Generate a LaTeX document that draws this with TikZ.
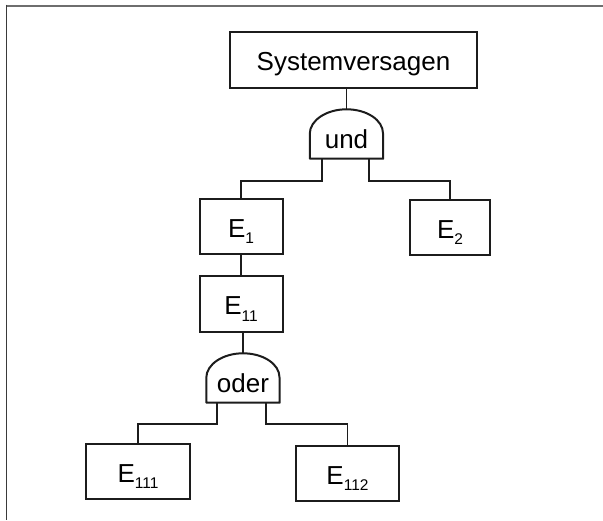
\documentclass[tikz,border=0pt]{standalone}
\usepackage{fontspec}
\setmainfont{Liberation Sans}
\usetikzlibrary{calc}

\definecolor{inkdark}{HTML}{1C1C1C}
\definecolor{framegray}{HTML}{6E6E6E}
\definecolor{frameleft}{HTML}{3A3A3A}

% lowered index digits after an event letter
\newcommand\idx[1]{\raisebox{-6.5pt}{\fontsize{15.5}{15.5}\selectfont #1}}

% outline of a logic gate: straight sides, domed top
\newcommand\gateshape[1]{%
  \draw[gateline] (#1.south west) -- ++(0,-25)
    .. controls +(0,-13.3) and +(-20.2,0) .. (#1.north)
    .. controls +(20.2,0) and +(0,-13.3) .. ++(36.5,24)
    -- (#1.south east) -- cycle;}

\begin{document}
\begin{tikzpicture}[x=1pt,y=-1pt,
  box/.style={draw=inkdark, line width=2pt, inner sep=0pt,
    text height=21pt, text depth=0pt, font=\fontsize{26}{28}\selectfont},
  gate/.style={inner sep=0pt, minimum width=73pt, minimum height=49pt,
    text height=28pt, text depth=0pt, font=\fontsize{26}{28}\selectfont},
  gateline/.style={draw=inkdark, line width=2pt, line join=round},
  link/.style={draw=inkdark, line width=1.7pt}]

\useasboundingbox (0,0) rectangle (603,520);

% page frame (top and left edges)
\draw[draw=framegray, line width=2pt] (6,5.5) -- (603,5.5);
\draw[draw=frameleft, line width=1.5pt] (6.5,4.5) -- (6.5,520);

% events and gates
\node[box, minimum width=247pt, minimum height=56pt] (top) at (353.5,60) {Systemversagen};
\node[gate] (und) at (346.5,134) {und};
\node[box, minimum width=83pt, minimum height=55pt] (e1) at (241,226.5) {E\idx{1}};
\node[box, minimum width=80pt, minimum height=55pt] (e2) at (450,227.5) {E\idx{2}};
\node[box, minimum width=83pt, minimum height=56pt] (e11) at (241,304) {E\idx{11}};
\node[gate] (oder) at (243,378) {oder};
\node[box, minimum width=104pt, minimum height=55pt] (e111) at (138,471.5) {E\idx{111}};
\node[box, minimum width=103pt, minimum height=55pt] (e112) at (347.5,473.5) {E\idx{112}};

\gateshape{und}
\gateshape{oder}

% gate input and output points
\coordinate (undL) at ($(und.south)+(-24.5,0)$);
\coordinate (undR) at ($(und.south)+(22.5,0)$);
\coordinate (oderL) at ($(oder.south)+(-26,0)$);
\coordinate (oderR) at ($(oder.south)+(23,0)$);

% connectors
\draw[link] (und.north |- top.south) -- (und.north);
\draw[link] (undL) -- ++(0,22) -| (e1.north);
\draw[link] (undR) -- ++(0,22) -| (e2.north);
\draw[link] (e1.south) -- (e11.north);
\draw[link] (oder.north |- e11.south) -- (oder.north);
\draw[link] (oderL) -- ++(0,21) -| (e111.north);
\draw[link] (oderR) -- ++(0,21) -| (e112.north);
\end{tikzpicture}
\end{document}
